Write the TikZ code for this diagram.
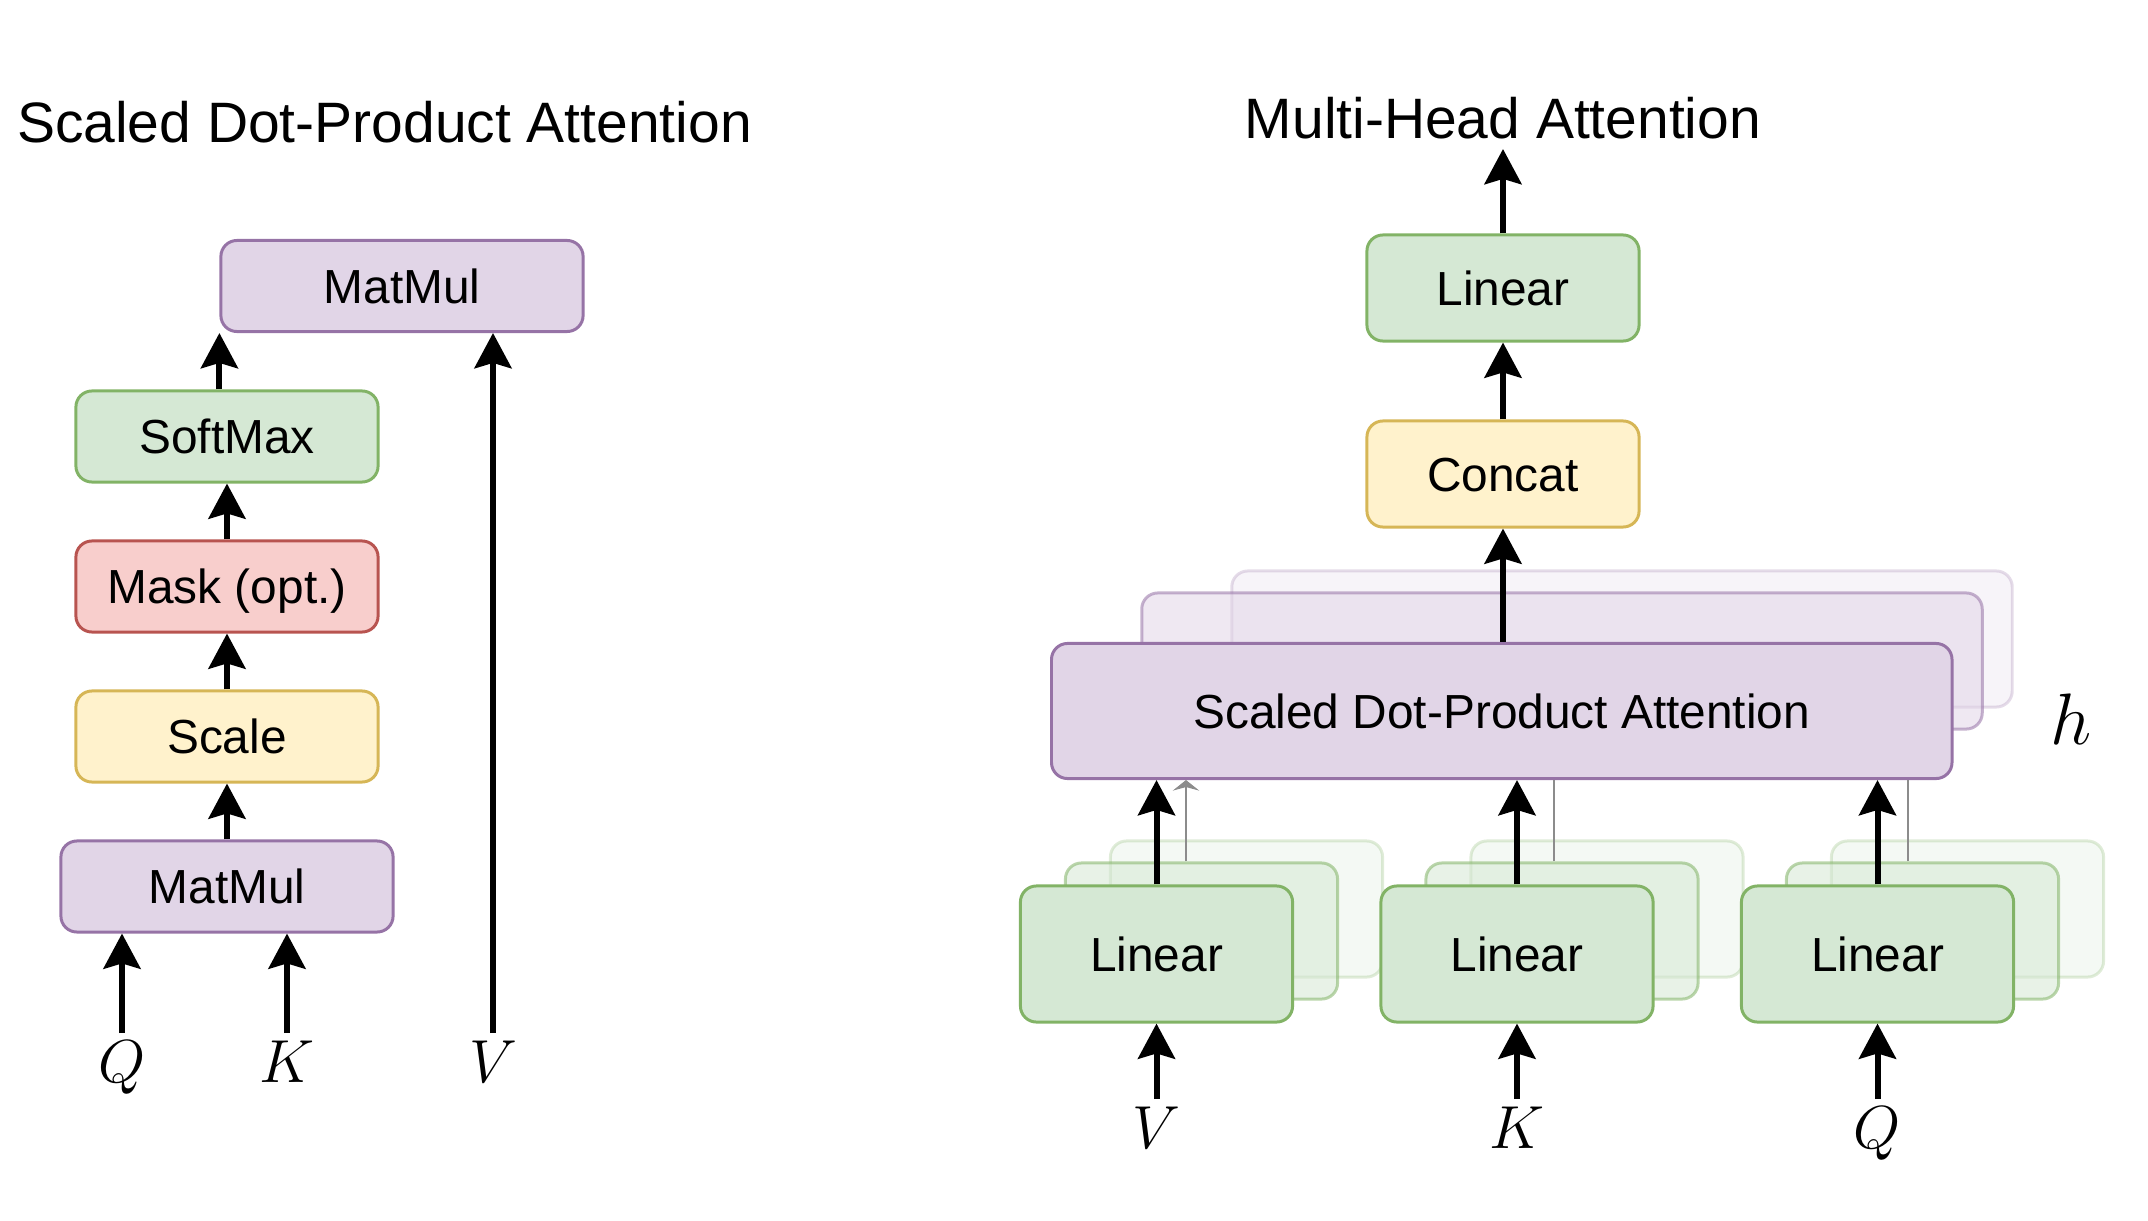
\documentclass[tikz,border=0pt]{standalone}
\usepackage{amsmath}
\usepackage{fontspec}
\setmainfont{Liberation Sans}
\usetikzlibrary{arrows.meta,positioning}

\definecolor{mmfill}{HTML}{E1D5E7}
\definecolor{mmline}{HTML}{9673A6}
\definecolor{linfill}{HTML}{D5E8D4}
\definecolor{linline}{HTML}{82B366}
\definecolor{scfill}{HTML}{FFF2CC}
\definecolor{scline}{HTML}{D6B656}
\definecolor{mkfill}{HTML}{F8CECC}
\definecolor{mkline}{HTML}{B85450}

\tikzset{
  block/.style={draw, rounded corners=0.16cm, line width=0.85pt, inner sep=0pt,
    font=\fontsize{13.6}{16}\selectfont, text height=9.7pt, text depth=0pt},
  mmbox/.style={block, fill=mmfill, draw=mmline},
  linbox/.style={block, fill=linfill, draw=linline},
  scbox/.style={block, fill=scfill, draw=scline},
  mkbox/.style={block, fill=mkfill, draw=mkline},
  small/.style={minimum width=3.02cm, minimum height=0.91cm},
  headbox/.style={minimum width=2.72cm, minimum height=1.06cm},
  projbox/.style={minimum width=2.72cm, minimum height=1.36cm},
  flow/.style={-{Stealth[length=10pt,width=10.5pt,inset=1.5pt]}, line width=1.7pt},
  ghost/.style={black!45, line width=0.6pt},
  title/.style={font=\fontsize{16.2}{19}\selectfont, anchor=base, inner sep=0pt},
  sym/.style={font=\LARGE, inner sep=2pt, anchor=north},
}

\begin{document}
\begin{tikzpicture}[x=0.01cm, y=-0.01cm]
  \useasboundingbox (0,0) rectangle (2148,1221);

  % scaled dot-product attention
  \node[title] at (384.5,142) {Scaled Dot-Product Attention};
  \node[mmbox, minimum width=3.62cm, minimum height=0.91cm] (mm2) at (402,286) {MatMul};
  \node[linbox, small] (soft) at (227,436.5) {SoftMax};
  \node[mkbox, small] (mask) at (227,586.5) {Mask (opt.)};
  \node[scbox, small] (scale) at (227,736.5) {Scale};
  \node[mmbox, minimum width=3.32cm, minimum height=0.91cm] (mm1) at (227,886.5) {MatMul};
  \node[sym] (q) at (122,1033) {$Q$};
  \node[sym] (k) at (287,1033) {$K$};
  \node[sym] (v) at (493,1033) {$V$};
  \draw[flow]
    (mm1) edge (scale)
    (scale) edge (mask)
    (mask) edge (soft)
    (q) edge (q |- mm1.south)
    (k) edge (k |- mm1.south)
    (v) edge (v |- mm2.south);
  \draw[flow] (mm2.south west |- soft.north) -- (mm2.south west);

  % multi-head attention
  \node[title] at (1503,138) {Multi-Head Attention};
  \node[mmbox, opacity=0.25, minimum width=7.8cm, minimum height=1.36cm] (sdpaC) at (1622,639) {};
  \node[mmbox, opacity=0.55, minimum width=8.4cm, minimum height=1.36cm] (sdpaB) at (1562,661) {};
  \foreach \n/\x/\s in {V/1156.5/V, K/1517/K, Q/1877.5/Q} {
    \node[linbox, projbox, opacity=0.25] (lin\n c) at (\x+90,909) {};
    \node[linbox, projbox, opacity=0.55] (lin\n b) at (\x+45,931) {};
    \node[linbox, projbox] (lin\n) at (\x,954) {Linear};
    \node[sym] (sym\n) at (\x,1099) {$\s$};
  }
  \node[mmbox, minimum width=9.0cm, minimum height=1.35cm] (sdpa) at (1501.75,711) {Scaled Dot-Product Attention};
  \node[scbox, headbox] (concat) at (1503,474) {Concat};
  \node[linbox, headbox] (final) at (1503,288) {Linear};
  \coordinate (out) at (1503,149);
  \node[font=\huge] (h) at (2071,719) {$h$};

  \draw[ghost, -{Stealth[length=3pt,width=7.5pt,inset=1pt]}]
    ([xshift=-0.155cm]linVb.north) -- ([xshift=-0.155cm]linVb.north |- sdpa.south);
  \draw[ghost] ([xshift=-0.08cm]linKb.north) -- ([xshift=-0.08cm]linKb.north |- sdpa.south);
  \draw[ghost] ([xshift=-0.145cm]linQb.north) -- ([xshift=-0.145cm]linQb.north |- sdpa.south);

  \draw[flow]
    (linV) edge (linV |- sdpa.south)
    (linK) edge (linK |- sdpa.south)
    (linQ) edge (linQ |- sdpa.south)
    (symV) edge (linV)
    (symK) edge (linK)
    (symQ) edge (linQ)
    (concat) edge (final)
    (final) edge (out);
  \draw[flow] (sdpa.north -| concat) -- (concat);
\end{tikzpicture}
\end{document}
